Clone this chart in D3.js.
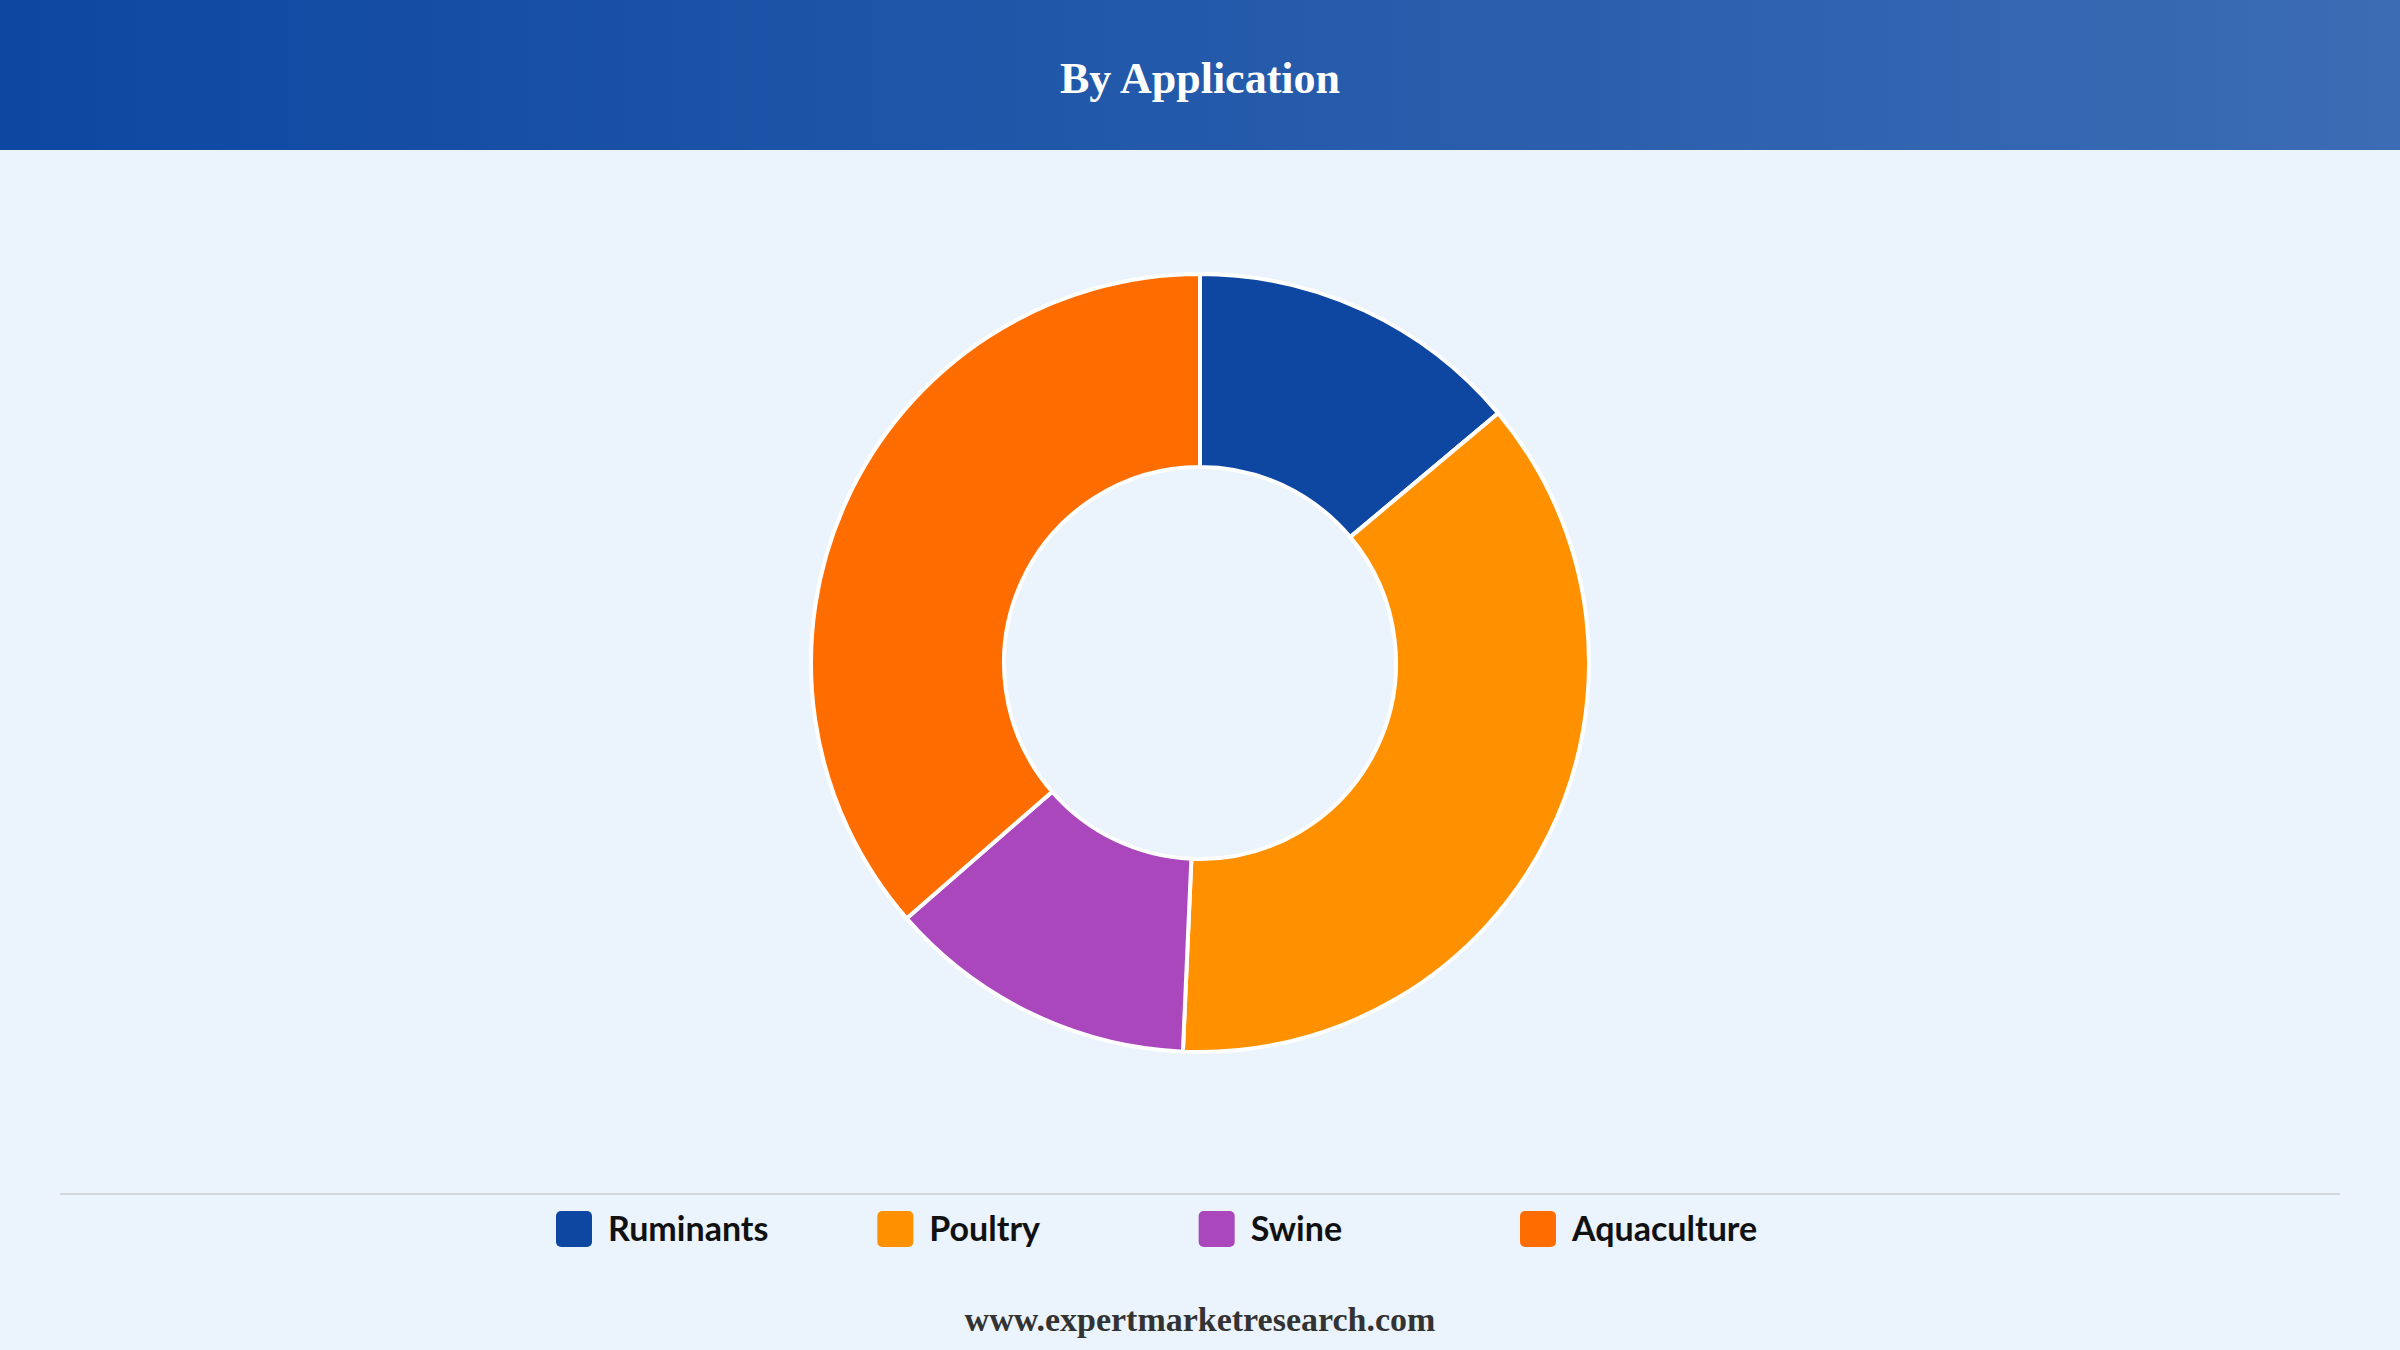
<!DOCTYPE html>
<html><head><meta charset="utf-8">
<script src="https://cdn.jsdelivr.net/npm/d3@7"></script>
<style>body{margin:0;background:#ebf3fc;}svg{display:block}</style>
</head><body>
<script>
const categories = ["Ruminants","Poultry","Swine","Aquaculture"];
const values = [13.9, 36.8, 12.9, 36.4];
const colors = ["#0d47a1","#ff9100","#ab47bc","#ff6d00"];
const title = "By Application";
const footer = "www.expertmarketresearch.com";

const W=2400,H=1350;
const svg=d3.select("body").append("svg").attr("width",W).attr("height",H);
const defs=svg.append("defs");
const g=defs.append("linearGradient").attr("id","hdr");
g.append("stop").attr("offset","0%").attr("stop-color","#0d47a1");
g.append("stop").attr("offset","100%").attr("stop-color","#3b6cb4");
svg.append("rect").attr("width",W).attr("height",H).attr("fill","#ebf3fc");
svg.append("rect").attr("width",W).attr("height",150).attr("fill","url(#hdr)");
svg.append("text").attr("x",W/2).attr("y",93).attr("text-anchor","middle")
  .attr("font-family","Liberation Serif, serif").attr("font-weight","bold").attr("font-size",44)
  .attr("fill","#fff").text(title);

const pie=d3.pie().sort(null).value(d=>d)(values);
const arc=d3.arc().innerRadius(196).outerRadius(389);
svg.append("g").attr("transform","translate(1200,663)").selectAll("path").data(pie).join("path")
  .attr("d",arc).attr("fill",(d,i)=>colors[i]).attr("stroke","#fff").attr("stroke-width",4);

svg.append("line").attr("x1",60).attr("x2",2340).attr("y1",1194).attr("y2",1194).attr("stroke","#d4d8dd").attr("stroke-width",2);
const xs=d3.scalePoint().domain(categories).range([556,1520]);
const lg=svg.append("g").selectAll("g").data(categories).join("g").attr("transform",d=>`translate(${xs(d)},1229)`);
lg.append("rect").attr("x",0).attr("y",-18).attr("width",36).attr("height",36).attr("rx",5).attr("fill",(d,i)=>colors[i]);
lg.append("text").attr("x",52).attr("y",12).attr("font-family","Lato, Open Sans, sans-serif").attr("font-weight","bold")
  .attr("font-size",34).attr("fill","#111").text(d=>d);

svg.append("text").attr("x",W/2).attr("y",1331).attr("text-anchor","middle")
  .attr("font-family","Liberation Serif, serif").attr("font-weight","bold").attr("font-size",34)
  .attr("fill","#333").text(footer);
</script>
</body></html>
